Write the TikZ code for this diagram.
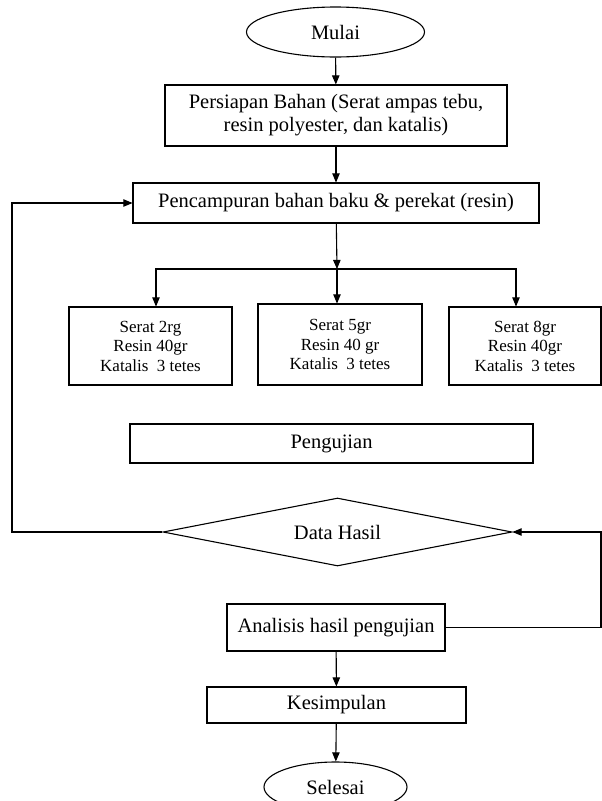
\documentclass[tikz,border=0pt]{standalone}
\usepackage{fontspec}
\setmainfont{Liberation Serif}
\usetikzlibrary{arrows,shapes}

\begin{document}
\begin{tikzpicture}
  [x=1pt,y=-1pt,line width=1.1pt,auto=left,
   every node/.style={draw,inner sep=0pt,align=center,font=\fontsize{20.5}{23}\selectfont},
   proses/.style={rectangle},
   oval/.style={ellipse},
   keputusan/.style={diamond,aspect=5.1},
   kecil/.style={font=\fontsize{17}{19.5}\selectfont}]
  \useasboundingbox (0,0) rectangle (602,801);

  \node[oval,minimum width=178pt,minimum height=50pt] (mulai) at (335.5,32) {Mulai};
  \node[proses,minimum width=342pt,minimum height=61pt] (bahan) at (336,115.5)
    {Persiapan Bahan (Serat ampas tebu,\\resin polyester, dan katalis)};
  \node[proses,minimum width=406pt,minimum height=40pt] (campur) at (336,203)
    {Pencampuran bahan baku \& perekat (resin)};
  \coordinate (cabang) at (337,269);
  \node[proses,kecil,minimum width=163pt,minimum height=78pt] (s2) at (150.5,346)
    {Serat 2rg\\Resin 40gr\\Katalis\ \ 3 tetes};
  \node[proses,kecil,minimum width=164pt,minimum height=81pt] (s5) at (340,344.5)
    {Serat 5gr\\Resin 40 gr\\Katalis\ \ 3 tetes};
  \node[proses,kecil,minimum width=152pt,minimum height=78pt] (s8) at (525,346)
    {Serat 8gr\\Resin 40gr\\Katalis\ \ 3 tetes};
  \node[proses,minimum width=403pt,minimum height=39pt] (uji) at (331.5,443.5) {Pengujian};
  \node[keputusan,minimum width=349pt,minimum height=68pt] (data) at (337.5,532) {Data Hasil};
  \node[proses,minimum width=218pt,minimum height=47pt] (analisis) at (336,627.5)
    {Analisis hasil pengujian};
  \node[proses,minimum width=259pt,minimum height=36pt] (simpul) at (336.5,705) {Kesimpulan};
  \node[oval,minimum width=143pt,minimum height=50pt] (selesai) at (335.5,787) {Selesai};

  \draw[arrows={-{triangle 45}}] (mulai) to (bahan);
  \draw[arrows={-{triangle 45}}] (bahan) to (campur);
  \draw[arrows={-{triangle 45}}] (campur) to (cabang);
  \draw[arrows={-{triangle 45}}] (cabang) -| ([xshift=5.5pt]s2.north);
  \draw[arrows={-{triangle 45}}] (cabang) to (cabang |- s5.north);
  \draw[arrows={-{triangle 45}}] (cabang) -| ([xshift=-9pt]s8.north);
  \draw[arrows={-{triangle 45}}] (data.west) -| (12,300) |- (campur.west);
  \draw[arrows={-{triangle 45}}] (analisis.east) -| (601,580) |- (data.east);
  \draw[arrows={-{triangle 45}}] (analisis) to (simpul);
  \draw[arrows={-{triangle 45}}] (simpul) to (selesai);
\end{tikzpicture}
\end{document}
